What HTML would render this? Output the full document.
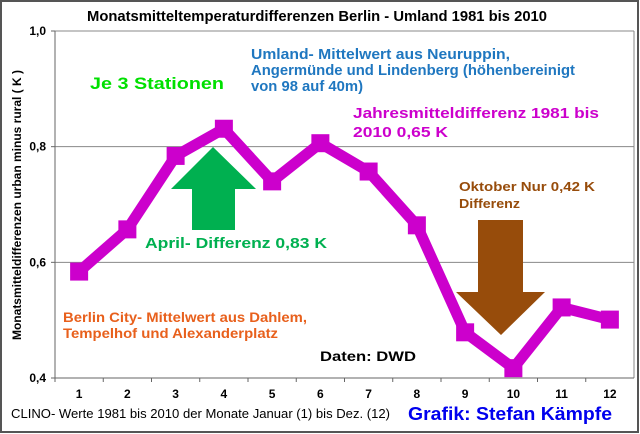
<!DOCTYPE html>
<html><head><meta charset="utf-8"><style>
html,body{margin:0;padding:0;background:#fff}
svg{display:block}
text{font-family:"Liberation Sans",Arial,sans-serif;font-weight:bold}
</style></head><body>
<svg id="chart" width="640" height="434" viewBox="0 0 640 434" xmlns="http://www.w3.org/2000/svg">
<rect x="1" y="1" width="637" height="431" fill="#fff" stroke="#555" stroke-width="2"/>
<text x="87" y="21" font-size="14.5" textLength="460" lengthAdjust="spacingAndGlyphs" fill="#000">Monatsmitteltemperaturdifferenzen Berlin - Umland 1981 bis 2010</text>
<g id="grid"></g>
<g id="axes"></g>
<text transform="translate(21,205) rotate(-90)" font-size="12" text-anchor="middle" fill="#000">Monatsmitteldifferenzen urban minus rural  ( K )</text>
<polygon points="213,147 256,189 235,189 235,230 192,230 192,189 171,189" fill="#00b050"/>
<polygon points="478,220 523,220 523,292 545,292 501,335 456,292 478,292" fill="#974c0b"/>
<g id="series"></g>
<text x="90" y="89" font-size="17" textLength="134" lengthAdjust="spacingAndGlyphs" fill="#00e000">Je 3 Stationen</text>
<g font-size="14.5" fill="#1f77c0">
<text x="251" y="59" textLength="259" lengthAdjust="spacingAndGlyphs">Umland- Mittelwert aus Neuruppin,</text>
<text x="251" y="75" textLength="324" lengthAdjust="spacingAndGlyphs">Angermünde und Lindenberg (höhenbereinigt</text>
<text x="251" y="91" textLength="112" lengthAdjust="spacingAndGlyphs">von 98 auf 40m)</text></g>
<g font-size="14.5" fill="#cc00cc">
<text x="353" y="118" textLength="246" lengthAdjust="spacingAndGlyphs">Jahresmitteldifferenz  1981 bis</text>
<text x="353" y="137" textLength="95" lengthAdjust="spacingAndGlyphs">2010  0,65 K</text></g>
<g font-size="13" fill="#974c0b">
<text x="459" y="191" textLength="136" lengthAdjust="spacingAndGlyphs">Oktober  Nur 0,42 K</text>
<text x="459" y="208" textLength="61" lengthAdjust="spacingAndGlyphs">Differenz</text></g>
<text x="145" y="248" font-size="15" textLength="182" lengthAdjust="spacingAndGlyphs" fill="#00b050">April-  Differenz 0,83 K</text>
<g font-size="14" fill="#e8601c">
<text x="63" y="322" textLength="244" lengthAdjust="spacingAndGlyphs">Berlin City- Mittelwert aus Dahlem,</text>
<text x="63" y="338" textLength="215" lengthAdjust="spacingAndGlyphs">Tempelhof und Alexanderplatz</text></g>
<text x="320" y="361" font-size="14" textLength="96" lengthAdjust="spacingAndGlyphs" fill="#000">Daten: DWD</text>
<text x="11" y="418" font-size="13" textLength="379" lengthAdjust="spacingAndGlyphs" fill="#000" style="font-weight:normal">CLINO- Werte 1981 bis 2010 der Monate Januar (1) bis Dez. (12)</text>
<text x="408" y="420" font-size="18" textLength="204" lengthAdjust="spacingAndGlyphs" fill="#0000ee">Grafik: Stefan Kämpfe</text>
</svg>
<script>
const categories=["1","2","3","4","5","6","7","8","9","10","11","12"];
const values=[0.584,0.657,0.784,0.831,0.740,0.806,0.757,0.664,0.479,0.417,0.522,0.501];
const yTicks=[0.4,0.6,0.8,1.0];
const yTickLabels=["0,4","0,6","0,8","1,0"];
const NS="http://www.w3.org/2000/svg";
const L=55,R=634,T=31,B=378,yMin=0.4,yMax=1.0;
const band=(R-L)/categories.length;
function xs(i){return L+band*(i+0.5);}
function ys(v){return B-(v-yMin)/(yMax-yMin)*(B-T);}
function mk(tag,attrs,parent){const e=document.createElementNS(NS,tag);for(const k in attrs)e.setAttribute(k,attrs[k]);parent.appendChild(e);return e;}
const grid=document.getElementById('grid'),axes=document.getElementById('axes'),series=document.getElementById('series');
yTicks.forEach((t,i)=>{
  const y=ys(t);
  if(t>yMin){const g=mk('line',{x1:L,x2:R,y1:y,y2:y,stroke:'#888','stroke-width':1},grid);
  
  }
  const tk=mk('line',{x1:L-4,x2:L,y1:y,y2:y,stroke:'#666'},axes);
  
  
  const lb=mk('text',{x:L-9,y:y+4,'font-size':12,'text-anchor':'end',fill:'#000'},axes);
  lb.textContent=yTickLabels[i];
  
  
});
mk('line',{x1:R,x2:R,y1:T,y2:B,stroke:'#888'},grid);
mk('line',{x1:L,x2:L,y1:T,y2:B,stroke:'#666'},axes);
mk('line',{x1:L,x2:R,y1:B,y2:B,stroke:'#666'},axes);
categories.forEach((c,i)=>{
  const x0=L+band*i;
  const tk=mk('line',{x1:x0,x2:x0,y1:B,y2:B+4,stroke:'#666'},axes);
  
  
  const lb=mk('text',{x:xs(i),y:B+20,'font-size':12,'text-anchor':'middle',fill:'#000'},axes);
  lb.textContent=c;
  
  
});
const pts=values.map((v,i)=>xs(i)+','+ys(v)).join(' ');
const pl=mk('polyline',{points:pts,fill:'none',stroke:'#cc00cc','stroke-width':11,'stroke-linejoin':'miter'},series);


values.forEach((v,i)=>{
  const m=mk('rect',{x:xs(i)-9,y:ys(v)-9,width:18,height:18,fill:'#cc00cc'},series);
  
  
});
</script>
</body></html>
